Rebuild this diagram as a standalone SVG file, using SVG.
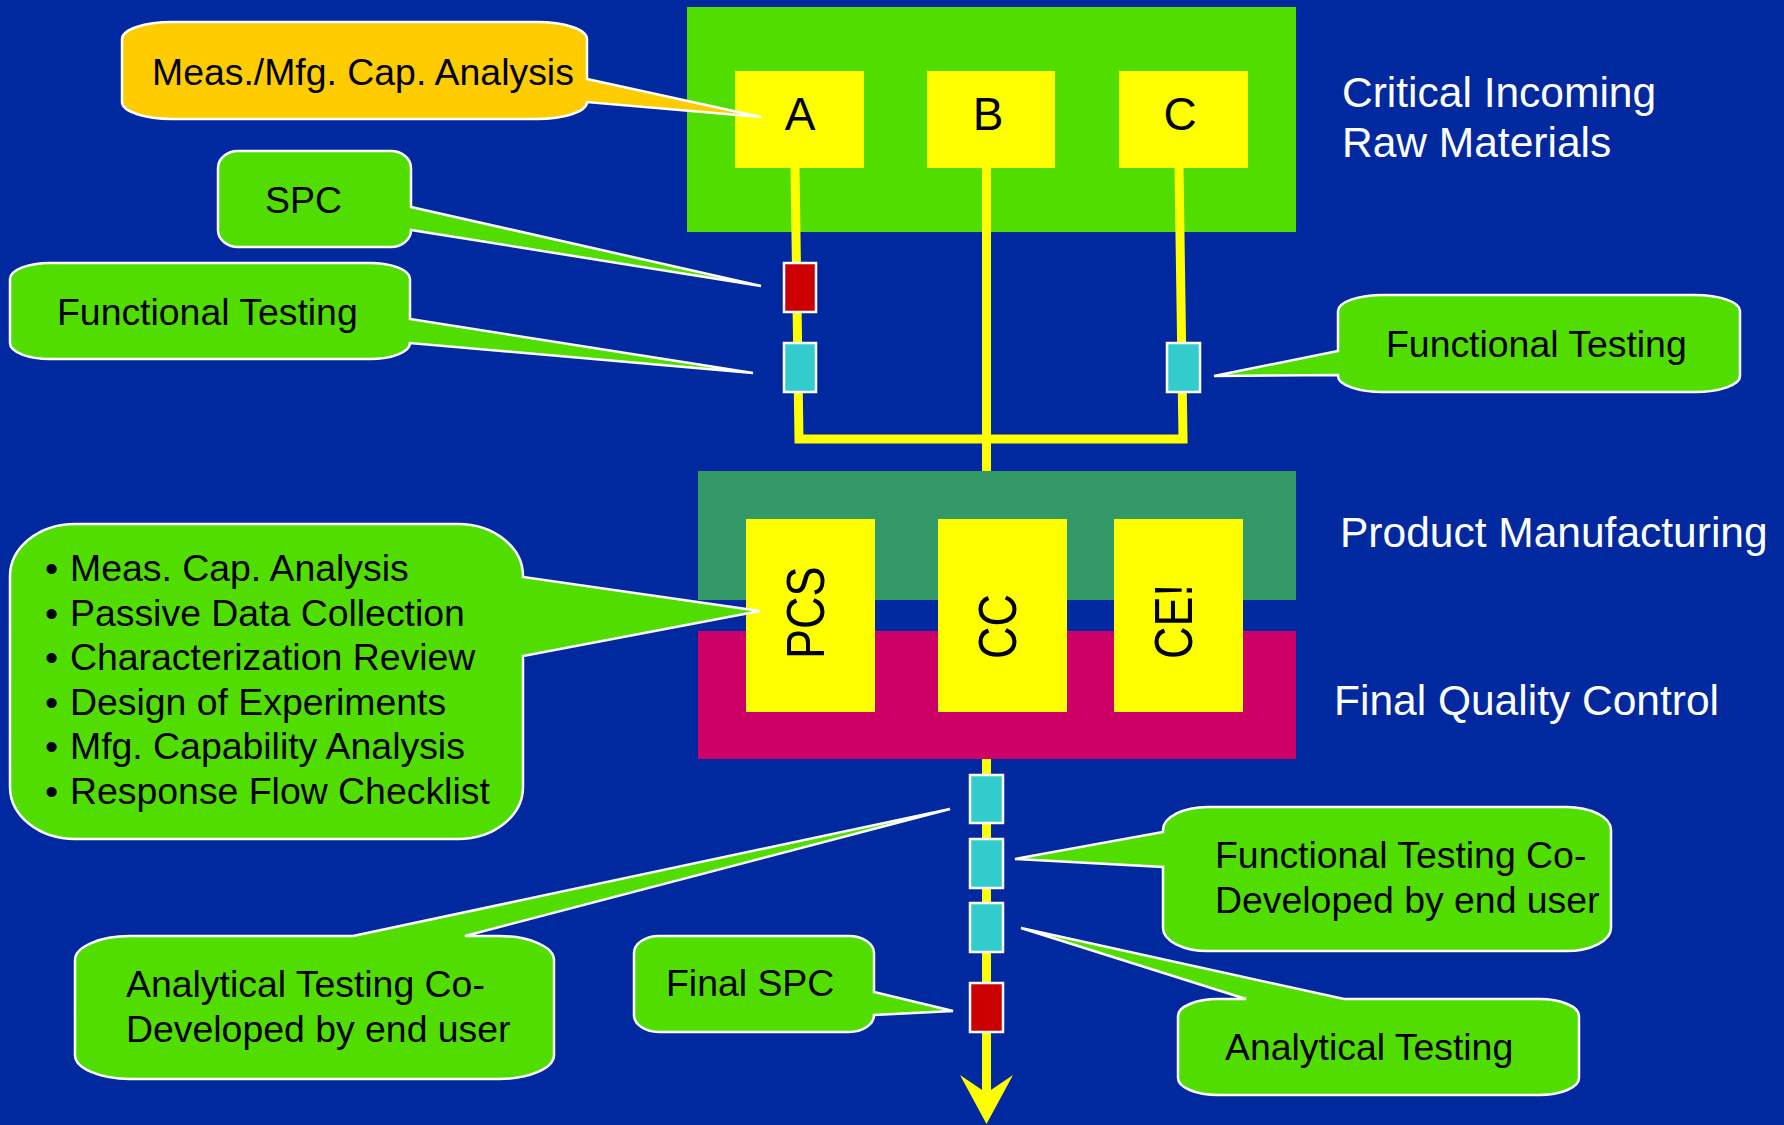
<svg xmlns="http://www.w3.org/2000/svg" width="1784" height="1125" viewBox="0 0 1784 1125">
<style>
.bg{fill:#0029A0}
.callout{fill:#52DD00;stroke:#FFFFFF;stroke-width:2.5;stroke-linejoin:miter}
.orange{fill:#FFCC00}
.ct{font-family:"Liberation Sans",Arial,sans-serif;font-size:37.4px;fill:#000}
.lbl{font-family:"Liberation Sans",Arial,sans-serif;font-size:42.5px;fill:#FFF}
.letter{font-family:"Liberation Sans",Arial,sans-serif;font-size:46px;fill:#000;text-anchor:middle}
.vt{font-family:"Liberation Sans",Arial,sans-serif;font-size:45px;fill:#000}
.ybox{fill:#FFFF00}
.conn{fill:none;stroke:#FFFF00;stroke-width:9}
.red{fill:#CC0000;stroke:#FFF;stroke-width:2.5}
.teal{fill:#33CCCC;stroke:#FFF;stroke-width:2.5}
</style>
<rect class="bg" x="0" y="0" width="1784" height="1125"/>

<g id="raw-materials">
<rect x="687" y="7" width="609" height="225" fill="#52DD00"/>
</g>

<g id="connectors">
<polyline class="conn" points="795,168 799,439 1183,439 1179,168"/>
<line class="conn" x1="986.5" y1="168" x2="986.5" y2="1093"/>
<polygon points="960,1075 986.5,1124 1013,1075 986.5,1093" fill="#FFFF00"/>
</g>

<g id="material-A"><rect class="ybox" x="735" y="71" width="129" height="97"/><text class="letter" x="800" y="130">A</text></g>
<g id="material-B"><rect class="ybox" x="927" y="71" width="128" height="97"/><text class="letter" x="988" y="130">B</text></g>
<g id="material-C"><rect class="ybox" x="1119" y="71" width="129" height="97"/><text class="letter" x="1180" y="130">C</text></g>

<g id="spc-check-A"><rect class="red" x="784" y="263" width="32" height="49"/></g>
<g id="ft-check-A"><rect class="teal" x="784" y="343" width="32" height="49"/></g>
<g id="ft-check-C"><rect class="teal" x="1167" y="343" width="33" height="49"/></g>

<g id="product-manufacturing"><rect x="698" y="471" width="598" height="129" fill="#339966"/></g>
<g id="final-quality-control"><rect x="698" y="631" width="598" height="128" fill="#CC0066"/></g>

<g id="pcs"><rect class="ybox" x="746" y="519" width="129" height="193"/><text class="vt" transform="translate(824,659) rotate(-90) scale(1,1.18)">PCS</text></g>
<g id="cc"><rect class="ybox" x="938" y="519" width="129" height="193"/><text class="vt" transform="translate(1016,659) rotate(-90) scale(1,1.18)">CC</text></g>
<g id="ce"><rect class="ybox" x="1114" y="519" width="129" height="193"/><text class="vt" transform="translate(1192,659) rotate(-90) scale(1,1.18)">CE!</text></g>

<g id="ft-check-1"><rect class="teal" x="970" y="775" width="33" height="48"/></g>
<g id="ft-check-2"><rect class="teal" x="970" y="839" width="33" height="49"/></g>
<g id="ft-check-3"><rect class="teal" x="970" y="903" width="33" height="49"/></g>
<g id="final-spc-check"><rect class="red" x="970" y="983" width="33" height="49"/></g>

<g id="callout-meas">
<path class="callout orange" d="M172,22 H537 A50 17 0 0 1 587,39 V79 L761,117 L587,102 A50 17 0 0 1 537,119 H172 A50 17 0 0 1 122,102 V39 A50 17 0 0 1 172,22 Z"/>
<text class="ct" x="152" y="85">Meas./Mfg. Cap. Analysis</text>
</g>

<g id="callout-spc">
<path class="callout" d="M238,151 H391 A20 17 0 0 1 411,168 V207 L761,286 L411,230 A20 17 0 0 1 391,247 H238 A20 17 0 0 1 218,230 V168 A20 17 0 0 1 238,151 Z"/>
<text class="ct" x="265" y="213">SPC</text>
</g>

<g id="callout-ft-left">
<path class="callout" d="M50,263 H370 A40 16 0 0 1 410,279 V319 L753,373 L410,343 A40 16 0 0 1 370,359 H50 A40 16 0 0 1 10,343 V279 A40 16 0 0 1 50,263 Z"/>
<text class="ct" x="57" y="325">Functional Testing</text>
</g>

<g id="callout-ft-right">
<path class="callout" d="M1383,295 H1695 A45 16 0 0 1 1740,311 V376 A45 16 0 0 1 1695,392 H1383 A45 16 0 0 1 1338,376 V375 L1214,376 L1338,351 V311 A45 16 0 0 1 1383,295 Z"/>
<text class="ct" x="1386" y="357">Functional Testing</text>
</g>

<g id="callout-tools">
<path class="callout" d="M75,524 H458 A65 52 0 0 1 523,576 V577 L760,611 L523,656 V787 A65 52 0 0 1 458,839 H75 A65 52 0 0 1 10,787 V576 A65 52 0 0 1 75,524 Z"/>
<text class="ct" y="581"><tspan x="45">•</tspan><tspan x="70">Meas. Cap. Analysis</tspan></text>
<text class="ct" y="626"><tspan x="45">•</tspan><tspan x="70">Passive Data Collection</tspan></text>
<text class="ct" y="670"><tspan x="45">•</tspan><tspan x="70">Characterization Review</tspan></text>
<text class="ct" y="715"><tspan x="45">•</tspan><tspan x="70">Design of Experiments</tspan></text>
<text class="ct" y="759"><tspan x="45">•</tspan><tspan x="70">Mfg. Capability Analysis</tspan></text>
<text class="ct" y="804"><tspan x="45">•</tspan><tspan x="70">Response Flow Checklist</tspan></text>
</g>

<g id="callout-analytical-co">
<path class="callout" d="M130,936 H353 L950,809 L465,936 H499 A55 24 0 0 1 554,960 V1055 A55 24 0 0 1 499,1079 H130 A55 24 0 0 1 75,1055 V960 A55 24 0 0 1 130,936 Z"/>
<text class="ct" x="126" y="997">Analytical Testing Co-</text>
<text class="ct" x="126" y="1042">Developed by end user</text>
</g>

<g id="callout-final-spc">
<path class="callout" d="M659,936 H849 A25 17 0 0 1 874,953 V992 L953,1011 L874,1015 A25 17 0 0 1 849,1032 H659 A25 17 0 0 1 634,1015 V953 A25 17 0 0 1 659,936 Z"/>
<text class="ct" x="666" y="996">Final SPC</text>
</g>

<g id="callout-ft-co">
<path class="callout" d="M1208,807 H1566 A45 23 0 0 1 1611,830 V928 A45 23 0 0 1 1566,951 H1208 A45 23 0 0 1 1163,928 V867 L1015,859 L1163,832 V830 A45 23 0 0 1 1208,807 Z"/>
<text class="ct" x="1215" y="868">Functional Testing Co-</text>
<text class="ct" x="1215" y="913">Developed by end user</text>
</g>

<g id="callout-analytical">
<path class="callout" d="M1218,999 H1246 L1021,928 L1344,999 H1539 A40 17 0 0 1 1579,1016 V1078 A40 17 0 0 1 1539,1095 H1218 A40 17 0 0 1 1178,1078 V1016 A40 17 0 0 1 1218,999 Z"/>
<text class="ct" x="1225" y="1060">Analytical Testing</text>
</g>

<g id="labels">
<text class="lbl" x="1342" y="107">Critical Incoming</text>
<text class="lbl" x="1342" y="157">Raw Materials</text>
<text class="lbl" x="1340" y="547">Product Manufacturing</text>
<text class="lbl" x="1334" y="715">Final Quality Control</text>
</g>
</svg>
